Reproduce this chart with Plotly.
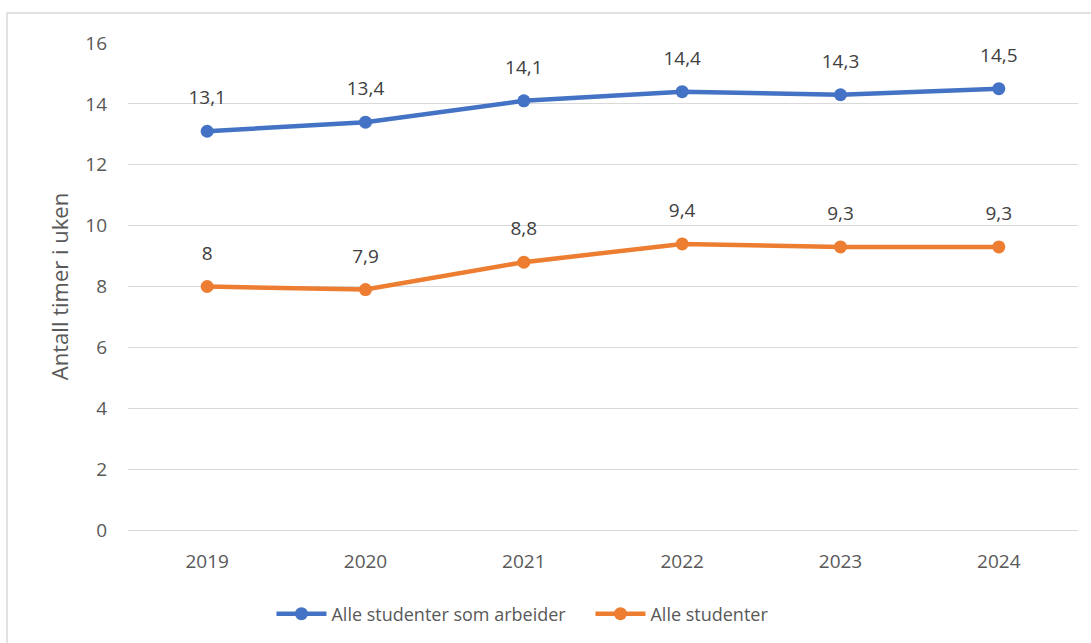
import plotly.graph_objects as go

years = ["2019", "2020", "2021", "2022", "2023", "2024"]
arbeider = [13.1, 13.4, 14.1, 14.4, 14.3, 14.5]
alle = [8.0, 7.9, 8.8, 9.4, 9.3, 9.3]
series_names = ["Alle studenter som arbeider", "Alle studenter"]
colors = ["#4472C4", "#ED7D31"]
y_ticks = [0, 2, 4, 6, 8, 10, 12, 14, 16]

def fmt(v):
    s = ("%.1f" % v).rstrip("0").rstrip(".")
    return s.replace(".", ",")

FONT = "Open Sans"
fig = go.Figure()
for name, vals, col in zip(series_names, [arbeider, alle], colors):
    fig.add_trace(go.Scatter(
        x=years, y=vals, name=name, mode="lines+markers",
        line=dict(color=col, width=4.5),
        marker=dict(color=col, size=13),
    ))
for vals in [arbeider, alle]:
    fig.add_trace(go.Scatter(
        x=years, y=vals, mode="markers+text", text=[fmt(v) for v in vals],
        textposition="top center", showlegend=False, hoverinfo="skip",
        marker=dict(size=34, color="rgba(0,0,0,0)"),
        textfont=dict(size=19, color="#404040", family=FONT),
    ))

W, H = 1091, 643
L, R, T, B = 128, 13, 43, 112
pw, ph = W - L - R, H - T - B
def px(x): return (x - L) / pw
def py(y): return (H - B - y) / ph

fig.update_layout(
    width=W, height=H,
    margin=dict(l=L, r=R, t=T, b=B),
    paper_bgcolor="white", plot_bgcolor="white",
    font=dict(family=FONT, color="#595959", size=18),
    showlegend=True,
    shapes=[dict(type="rect", xref="paper", yref="paper",
                 x0=px(7), x1=px(1095), y0=py(650), y1=py(13),
                 line=dict(color="#D9D9D9", width=1.5), layer="below")],
    legend=dict(orientation="h", x=0.4868, xanchor="center", y=py(614), yanchor="middle",
                font=dict(size=18, color="#595959"), itemwidth=50, tracegroupgap=0,
                entrywidth=254),
    xaxis=dict(type="category", range=[-0.5, 5.5], showgrid=False, zeroline=False,
               showline=False, ticks="", tickfont=dict(size=19, color="#595959"),
               ticklabelstandoff=18),
    yaxis=dict(range=[0, 16], tickvals=y_ticks, showgrid=True, gridcolor="#D9D9D9",
               gridwidth=1, zeroline=True, zerolinecolor="#D9D9D9", zerolinewidth=1,
               showline=False, ticks="", tickfont=dict(size=19, color="#595959"),
               ticklabelstandoff=20,
               title=dict(text="Antall timer i uken", font=dict(size=22, color="#595959"),
                          standoff=10)),
)
fig.write_html("out.html", post_script="document.body.style.margin='0';",
               config={"displayModeBar": False})
